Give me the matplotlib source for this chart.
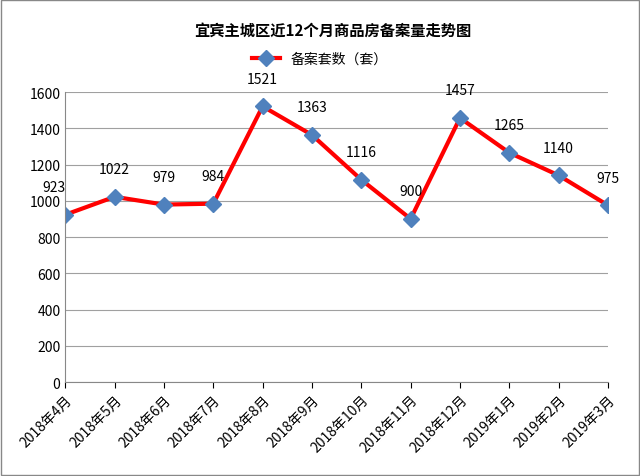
import matplotlib.pyplot as plt

plt.rcParams['font.family'] = 'Noto Sans CJK SC'

months = ['2018年4月', '2018年5月', '2018年6月', '2018年7月', '2018年8月', '2018年9月',
          '2018年10月', '2018年11月', '2018年12月', '2019年1月', '2019年2月', '2019年3月']
counts = [923, 1022, 979, 984, 1521, 1363, 1116, 900, 1457, 1265, 1140, 975]

fig = plt.figure(figsize=(6.4, 4.77), dpi=100)
fig.patches.append(plt.Rectangle((0.002, 0.002), 0.996, 0.996, transform=fig.transFigure,
                                 fill=False, edgecolor='#888888', lw=1))
ax = fig.add_axes([0.102, 0.197, 0.848, 0.608])
x = range(len(months))
ax.plot(x, counts, color='#ff0000', lw=3, marker='D', markersize=8,
        markerfacecolor='#4f81bd', markeredgecolor='#4f81bd', label='备案套数（套）')
for i, v in enumerate(counts):
    dx = -8 if i == 0 else 0
    ax.annotate(str(v), (i, v), textcoords='offset points', xytext=(dx, 17),
                ha='center', fontsize=10)
ax.set_xlim(0, 11)
ax.set_ylim(0, 1600)
ax.set_yticks(range(0, 1601, 200))
ax.set_xticks(list(x))
ax.set_xticklabels(months, rotation=45, ha='right', rotation_mode='anchor', fontsize=10)
ax.tick_params(axis='y', labelsize=10, length=0)
ax.tick_params(axis='x', length=4)
ax.grid(axis='y', color='#a0a0a0', lw=0.8)
ax.set_axisbelow(True)
for s in ['top', 'right']:
    ax.spines[s].set_visible(False)
ax.spines['left'].set_color('#888888')
ax.spines['bottom'].set_color('#888888')
fig.text(0.52, 0.935, '宜宾主城区近12个月商品房备案量走势图', ha='center', va='center',
         fontsize=11, fontweight='bold')
fig.legend(loc='center', bbox_to_anchor=(0.5, 0.875), frameon=False, fontsize=10)
fig.savefig('out.png', dpi=100)
